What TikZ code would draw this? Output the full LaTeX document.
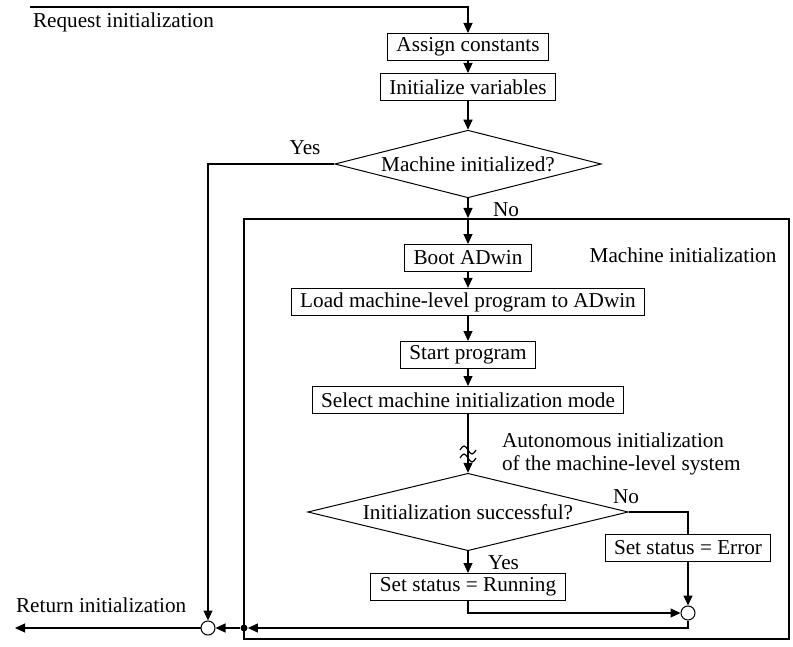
\documentclass[tikz,border=0pt]{standalone}
\usepackage{fontspec}
\setmainfont{Liberation Serif}
\usetikzlibrary{shapes.geometric, arrows.meta, positioning}

\begin{document}
\begin{tikzpicture}[
    x=0.5pt, y=-0.5pt,
    every node/.style={font=\fontsize{10.6}{13}\selectfont},
    box/.style={
        draw,
        line width=0.5pt,
        minimum height=13.5pt,
        inner xsep=4.5pt,
        inner ysep=2pt
    },
    decision/.style={
        draw,
        diamond,
        line width=0.5pt
    },
    junction/.style={
        draw,
        circle,
        line width=0.5pt,
        minimum size=7pt,
        inner sep=0pt
    },
    joint/.style={circle, fill, minimum size=3.5pt, inner sep=0pt},
    flow/.style={line width=0.6pt, -{Triangle[length=5pt,width=4.5pt]}},
    line/.style={line width=0.6pt}
]
\useasboundingbox (0,0) rectangle (793,647);

% Entry
\coordinate (request) at (30,7);
\node[anchor=west] (reqlabel) at (26,22) {Request initialization};

\node[box] (assign) at (468,47) {Assign constants};
\node[box] (init) at (468,87) {Initialize variables};
\node[decision, aspect=3.94, inner sep=1.7pt] (machinit) at (468,164) {Machine initialized?};

% Machine initialization block
\node[draw, line width=1pt, minimum width=272.5pt, minimum height=210pt, inner sep=0pt] (mframe) at (516.5,429) {};
\node (mlabel) at (683,255) {Machine initialization};
\coordinate (entry) at (machinit.south |- mframe.north);

\node[box] (boot) at (468,258) {Boot ADwin};
\node[box] (load) at (468,302) {Load machine-level program to ADwin};
\node[box] (prog) at (468,355) {Start program};
\node[box] (mode) at (468,400) {Select machine initialization mode};
\node[anchor=west, align=left, font=\fontsize{10.6}{11.5}\selectfont] (auto) at (495,454) {Autonomous initialization\\of the machine-level system};

\node[decision, aspect=4.14, inner sep=2.3pt] (success) at (468,512) {Initialization successful?};
\node[box] (running) at (468,587) {Set status = Running};
\node[box] (error) at (688,548) {Set status = Error};
\node[junction] (join) at (688,613) {};

% Exit
\node[joint] (dot) at (244,628) {};
\node[junction] (exit) at (208,628) {};
\coordinate (out) at (15,628);
\node[anchor=west] (retlabel) at (9,605) {Return initialization};

% Connectors
\draw[flow] (request) -| (assign.north);
\draw[flow] (assign) -- (init);
\draw[flow] (init) -- (machinit);
\draw[flow] (machinit.west) -| (exit.north);
\node (yes1) at (305,148) {Yes};
\draw[flow] (machinit.south) -- (entry);
\node[anchor=west] (no1) at (486,210) {No};
\draw[flow] (entry) -- (boot);
\draw[flow] (boot) -- (load);
\draw[flow] (load) -- (prog);
\draw[flow] (prog) -- (mode);
\draw[flow] (mode) -- (success);
\draw[line] (460,450) sin (464,446) cos (468,450) sin (472,454) cos (476,450);
\draw[line] (460,458) sin (464,454) cos (468,458) sin (472,462) cos (476,458);
\draw[flow] (success.south) -- (running.north);
\node[anchor=west] (yes2) at (481,563) {Yes};
\draw[line] (success.east) -| (error.north);
\node (no2) at (626,497) {No};
\draw[flow] (error.south) -- (join.north);
\draw[flow] (running.south) |- (join.west);
\draw[flow] (join.south) |- (dot);
\draw[flow] (dot) -- (exit);
\draw[flow] (exit) -- (out);

\end{tikzpicture}
\end{document}
